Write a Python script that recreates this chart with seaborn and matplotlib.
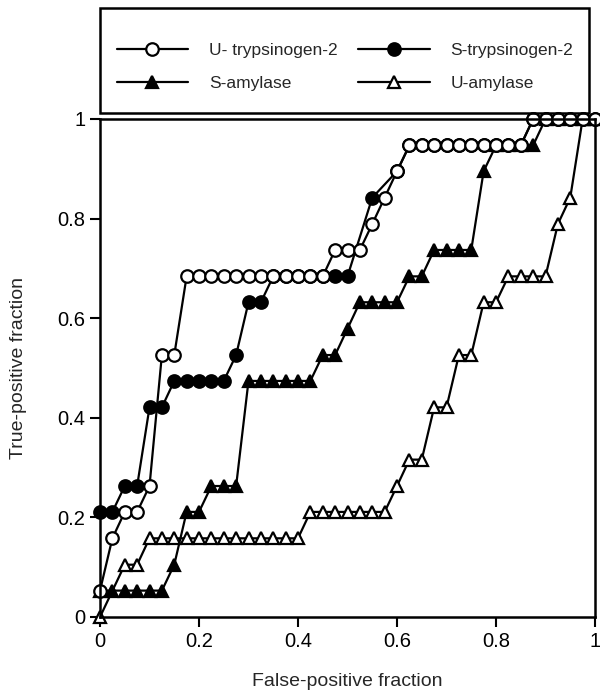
import matplotlib
matplotlib.use("Agg")
import matplotlib.pyplot as plt
from matplotlib.patches import Rectangle
import seaborn as sns

# ROC curves, values
u_tryp_fp = [0.0, 0.025, 0.05, 0.075, 0.1, 0.125, 0.15, 0.175, 0.2, 0.225, 0.25, 0.275, 0.3, 0.325,
             0.35, 0.375, 0.4, 0.425, 0.45, 0.475, 0.5, 0.525, 0.55, 0.575, 0.6, 0.625, 0.65, 0.675,
             0.7, 0.725, 0.75, 0.775, 0.8, 0.825, 0.85, 0.875, 0.9, 0.925, 0.95, 0.975, 1.0]
u_tryp_tp = [0.053, 0.158, 0.211, 0.211, 0.263, 0.526, 0.526, 0.684, 0.684, 0.684, 0.684, 0.684,
             0.684, 0.684, 0.684, 0.684, 0.684, 0.684, 0.684, 0.737, 0.737, 0.737, 0.789, 0.842,
             0.895, 0.947, 0.947, 0.947, 0.947, 0.947, 0.947, 0.947, 0.947, 0.947, 0.947,
             1.0, 1.0, 1.0, 1.0, 1.0, 1.0]

s_tryp_fp = [0.0, 0.025, 0.05, 0.075, 0.1, 0.125, 0.15, 0.175, 0.2, 0.225, 0.25, 0.275, 0.3, 0.325,
             0.35, 0.375, 0.4, 0.425, 0.45, 0.475, 0.5, 0.55, 0.6, 0.625, 0.65, 0.675, 0.7, 0.725,
             0.75, 0.775, 0.8, 0.825, 0.85, 0.875, 0.9, 0.925, 0.95, 0.975, 1.0]
s_tryp_tp = [0.211, 0.211, 0.263, 0.263, 0.421, 0.421, 0.474, 0.474, 0.474, 0.474, 0.474, 0.526,
             0.632, 0.632, 0.684, 0.684, 0.684, 0.684, 0.684, 0.684, 0.684, 0.842, 0.895, 0.947,
             0.947, 0.947, 0.947, 0.947, 0.947, 0.947, 0.947, 0.947, 0.947, 1.0, 1.0, 1.0, 1.0,
             1.0, 1.0]

s_amyl_fp = [0.0, 0.025, 0.05, 0.075, 0.1, 0.125, 0.15, 0.175, 0.2, 0.225, 0.25, 0.275, 0.3, 0.325,
             0.35, 0.375, 0.4, 0.425, 0.45, 0.475, 0.5, 0.525, 0.55, 0.575, 0.6, 0.625, 0.65, 0.675,
             0.7, 0.725, 0.75, 0.775, 0.8, 0.825, 0.85, 0.875, 0.9, 0.925, 0.95, 0.975, 1.0]
s_amyl_tp = [0.053, 0.053, 0.053, 0.053, 0.053, 0.053, 0.105, 0.211, 0.211, 0.263, 0.263, 0.263,
             0.474, 0.474, 0.474, 0.474, 0.474, 0.474, 0.526, 0.526, 0.579, 0.632, 0.632, 0.632,
             0.632, 0.684, 0.684, 0.737, 0.737, 0.737, 0.737, 0.895, 0.947, 0.947, 0.947, 0.947,
             1.0, 1.0, 1.0, 1.0, 1.0]

u_amyl_fp = [0.0, 0.05, 0.075, 0.1, 0.125, 0.15, 0.175, 0.2, 0.225, 0.25, 0.275, 0.3, 0.325, 0.35,
             0.375, 0.4, 0.425, 0.45, 0.475, 0.5, 0.525, 0.55, 0.575, 0.6, 0.625, 0.65, 0.675, 0.7,
             0.725, 0.75, 0.775, 0.8, 0.825, 0.85, 0.875, 0.9, 0.925, 0.95, 0.975, 1.0]
u_amyl_tp = [0.0, 0.105, 0.105, 0.158, 0.158, 0.158, 0.158, 0.158, 0.158, 0.158, 0.158, 0.158,
             0.158, 0.158, 0.158, 0.158, 0.211, 0.211, 0.211, 0.211, 0.211, 0.211, 0.211, 0.263,
             0.316, 0.316, 0.421, 0.421, 0.526, 0.526, 0.632, 0.632, 0.684, 0.684, 0.684, 0.684,
             0.789, 0.842, 1.0, 1.0]

ticks = [0, 0.2, 0.4, 0.6, 0.8, 1]
tick_labels = ["0", "0.2", "0.4", "0.6", "0.8", "1"]

sns.set_style("ticks")
plt.rcParams['font.family'] = ['Liberation Sans', 'DejaVu Sans']

fig = plt.figure(figsize=(6, 6.98), dpi=100)
ax = fig.add_axes([100 / 600, 81 / 698, 495 / 600, 498 / 698])

common = dict(ax=ax, color="black", linewidth=1.6, markersize=9, markeredgewidth=1.6,
              markeredgecolor="black", estimator=None, sort=False)

sns.lineplot(x=u_amyl_fp, y=u_amyl_tp, marker="^", markerfacecolor="white", label="U-amylase", **common)
sns.lineplot(x=s_amyl_fp, y=s_amyl_tp, marker="^", markerfacecolor="black", label="S-amylase", **common)
sns.lineplot(x=s_tryp_fp, y=s_tryp_tp, marker="o", markerfacecolor="black", label="S-trypsinogen-2", **common)
sns.lineplot(x=u_tryp_fp, y=u_tryp_tp, marker="o", markerfacecolor="white", label="U- trypsinogen-2", **common)

for line in ax.lines:
    line.set_clip_on(False)

ax.set_xlim(0, 1)
ax.set_ylim(0, 1)
ax.set_xticks(ticks)
ax.set_xticklabels(tick_labels)
ax.set_yticks(ticks)
ax.set_yticklabels(tick_labels)
ax.tick_params(direction="out", length=7, width=1.5, labelsize=14.5, colors="black")
for sp in ax.spines.values():
    sp.set_visible(True)
    sp.set_linewidth(1.8)
    sp.set_color("black")

ax.set_xlabel("False-positive fraction", fontsize=14, labelpad=16)
ax.set_ylabel("True-positive fraction", fontsize=14, labelpad=22)

handles, labels = ax.get_legend_handles_labels()
order = ["U- trypsinogen-2", "S-amylase", "S-trypsinogen-2", "U-amylase"]
h = [handles[labels.index(n)] for n in order]
leg = ax.legend(h, order, loc="center", bbox_to_anchor=(0.575, 0.904),
                bbox_transform=fig.transFigure, ncol=2, fontsize=12.5, frameon=False,
                handlelength=4.1, handletextpad=1.2, columnspacing=1.2, labelspacing=1.0)

# legend box
fig.add_artist(Rectangle((100 / 600, 1 - 113 / 698), 489 / 600, 105 / 698,
                         transform=fig.transFigure, fill=False, edgecolor="black", linewidth=1.8))

fig.savefig("out.png", dpi=100)
